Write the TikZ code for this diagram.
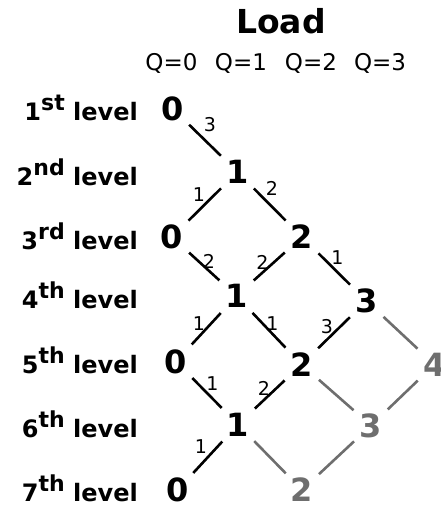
\documentclass[tikz,border=0pt]{standalone}
\usepackage{fontspec}
\setmainfont{DejaVu Sans}
\definecolor{dimgray}{rgb}{0.43,0.43,0.43}
\newcommand{\ordsup}[1]{\raisebox{10pt}{\fontsize{22}{22}\selectfont #1}}
\begin{document}
\begin{tikzpicture}[x=1pt,y=-1pt,
  state/.style={circle,minimum size=46pt,inner sep=0pt,
    font=\fontsize{32}{32}\selectfont\bfseries},
  ghost/.style={state,text=dimgray},
  wt/.style={inner sep=0pt,font=\fontsize{19}{19}\selectfont},
  levlabel/.style={anchor=base east,inner sep=0pt,
    font=\fontsize{24}{24}\selectfont\bfseries},
  qlabel/.style={anchor=base,inner sep=0pt,font=\fontsize{23}{23}\selectfont},
  link/.style={draw=black,line width=2.6pt},
  glink/.style={draw=dimgray,line width=2.6pt}]
\useasboundingbox (0,0) rectangle (441,506);

% title and load columns
\node[anchor=base,inner sep=0pt,font=\fontsize{33}{33}\selectfont\bfseries] (title) at (281,33) {Load};
\node[qlabel] (q0) at (171.5,70) {Q=0};
\node[qlabel] (q1) at (241,70) {Q=1};
\node[qlabel] (q2) at (311,70) {Q=2};
\node[qlabel] (q3) at (380,70) {Q=3};

% level names
\node[levlabel] (l1) at (138,120) {1\ordsup{st} level};
\node[levlabel] (l2) at (138,185) {2\ordsup{nd} level};
\node[levlabel] (l3) at (138,249) {3\ordsup{rd} level};
\node[levlabel] (l4) at (138,308) {4\ordsup{th} level};
\node[levlabel] (l5) at (138,373) {5\ordsup{th} level};
\node[levlabel] (l6) at (138,437) {6\ordsup{th} level};
\node[levlabel] (l7) at (138,501) {7\ordsup{th} level};

% states
\node[state] (a1) at (172.5,108.5) {0};
\node[state] (b1) at (237.5,172) {1};
\node[state] (c0) at (172,237) {0};
\node[state] (c2) at (302,237) {2};
\node[state] (d1) at (236.5,296) {1};
\node[state] (d3) at (366.5,301) {3};
\node[state] (e0) at (176,361.5) {0};
\node[state] (e2) at (301.5,364.5) {2};
\node[ghost] (e4) at (434.5,364.5) {4};
\node[state] (f1) at (238,424.5) {1};
\node[ghost] (f3) at (371,425.5) {3};
\node[state] (g0) at (177.5,490) {0};
\node[ghost] (g2) at (302,490) {2};

% transitions
\draw[link] (a1) -- (b1);
\draw[link] (b1) -- (c0);
\draw[link] (b1) -- (c2);
\draw[link] (c0) -- (d1);
\draw[link] (c2) -- (d1);
\draw[link] (c2) -- (d3);
\draw[link] (d1) -- (e0);
\draw[link] (d1) -- (e2);
\draw[link] (d3) -- (e2);
\draw[link] (e0) -- (f1);
\draw[link] (e2) -- (f1);
\draw[link] (f1) -- (g0);
\draw[glink] (d3) -- (e4);
\draw[glink] (e2) -- (f3);
\draw[glink] (e4) -- (f3);
\draw[glink] (f1) -- (g2);
\draw[glink] (f3) -- (g2);

% weights
\node[wt] (w1) at (210,125) {3};
\node[wt] (w2) at (199,194.5) {1};
\node[wt] (w3) at (272,188.5) {2};
\node[wt] (w4) at (209,261) {2};
\node[wt] (w5) at (262.5,262) {2};
\node[wt] (w6) at (337.5,257.5) {1};
\node[wt] (w7) at (199,323.5) {1};
\node[wt] (w8) at (272.5,323.5) {1};
\node[wt] (w9) at (327,327) {3};
\node[wt] (w10) at (212.5,383.5) {1};
\node[wt] (w11) at (264,388.5) {2};
\node[wt] (w12) at (201,447) {1};
\end{tikzpicture}
\end{document}
